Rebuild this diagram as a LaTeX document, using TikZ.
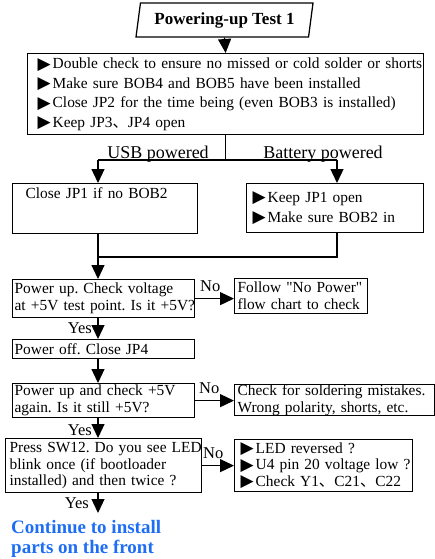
\documentclass[tikz,border=0pt]{standalone}
\usepackage{fontspec}
\setmainfont{Liberation Serif}
\newfontfamily\symfont{DejaVu Sans}
\newfontfamily\plainserif{Liberation Serif}[Ligatures=TeXOff]
\newfontfamily\cjk{Noto Sans CJK SC}
\usetikzlibrary{shapes.geometric,arrows.meta}
\definecolor{contblue}{RGB}{30,110,245}
\newcommand\bul{\raisebox{-0.5pt}{\symfont\fontsize{17}{17}\selectfont ▶}\hspace{2pt}}
\newcommand\dun{{\cjk 、}}
\newcommand\dq{{\plainserif\symbol{34}}}
\hfuzz=200pt \hbadness=10000
\frenchspacing
\begin{document}
\begin{tikzpicture}[x=1pt,y=-1pt,
  box/.style={draw, line width=1.25pt, rectangle, inner ysep=0pt, align=left, anchor=north west,
    font=\frenchspacing\fontsize{15.4}{17}\selectfont},
  arr/.style={line width=1.25pt, -{Triangle[length=14pt,width=13pt]}},
  ln/.style={line width=1.25pt},
  lbl/.style={inner sep=0pt, font=\fontsize{16.5}{16.5}\selectfont},
  brlbl/.style={inner sep=0pt, anchor=base, font=\fontsize{18}{18}\selectfont}]
\useasboundingbox (0,0) rectangle (434,559);

\node[trapezium, trapezium left angle=74, trapezium right angle=106, trapezium stretches body,
  draw, line width=1.25pt, minimum width=177, minimum height=34, inner sep=0pt,
  font=\bfseries\fontsize{17}{17}\selectfont] (title) at (224.5,20) {Powering-up Test 1};

\node[box, inner xsep=10pt, minimum width=396, minimum height=81, text width=376,
  font=\frenchspacing\fontsize{15.4}{19.5}\selectfont] (b1) at (27,53)
  {\mbox{\bul Double check to ensure no missed or cold solder or shorts}\\
   \mbox{\bul Make sure BOB4 and BOB5 have been installed}\\
   \mbox{\bul Close JP2 for the time being (even BOB3 is installed)}\\
   \mbox{\bul Keep JP3\dun JP4 open}};

\node[box, inner xsep=13pt, minimum width=185, minimum height=50, text width=159,
  font=\frenchspacing\fontsize{15.4}{24}\selectfont] (L) at (12,183) {Close JP1 if no BOB2\\ \strut};
\node[box, inner xsep=6pt, minimum width=177, minimum height=49, text width=165,
  font=\frenchspacing\fontsize{15.4}{20}\selectfont] (R) at (246,183)
  {\mbox{\bul Keep JP1 open}\\ \mbox{\bul Make sure BOB2 in}};

\node[box, inner xsep=2pt, minimum width=182, minimum height=38, text width=178] (B1) at (12,279)
  {\mbox{Power up. Check voltage}\\ \mbox{at +5V test point. Is it +5V?}};
\node[box, inner xsep=3pt, minimum width=133, minimum height=35, text width=127] (N1) at (234,278)
  {\mbox{Follow \dq No Power\dq}\\ \mbox{flow chart to check}};

\node[box, inner xsep=2pt, minimum width=182, minimum height=19, text width=178] (B2) at (12,339)
  {Power off. Close JP4};

\node[box, inner xsep=2pt, minimum width=182, minimum height=34, text width=178] (B3) at (12,383)
  {\mbox{Power up and check +5V}\\ \mbox{again. Is it still +5V?}};
\node[box, inner xsep=3pt, minimum width=200, minimum height=28, text width=194] (N2) at (234,384)
  {\mbox{Check for soldering mistakes.}\\ \mbox{Wrong polarity, shorts, etc.}};

\node[box, inner xsep=4pt, minimum width=196, minimum height=54, text width=188,
  font=\frenchspacing\fontsize{15.4}{16.5}\selectfont] (B4) at (5,438)
  {\mbox{Press SW12. Do you see LED}\\ \mbox{blink once (if bootloader}\\ \mbox{installed) and then twice ?}};
\node[box, inner xsep=6pt, minimum width=178, minimum height=52, text width=166,
  font=\frenchspacing\fontsize{15.4}{16.5}\selectfont] (N3) at (234,439)
  {\mbox{\bul LED reversed ?}\\ \mbox{\bul U4 pin 20 voltage low ?}\\ \mbox{\bul Check Y1\dun C21\dun C22}};

\node[inner sep=0pt, anchor=north west, align=left, text=contblue,
  font=\bfseries\fontsize{19}{20.5}\selectfont] (fin) at (11,520)
  {Continue to install\\ parts on the front};

% connectors
\draw[arr] (title.south) -- (b1.north);
\coordinate (jl) at (98,160);
\coordinate (jr) at (337,160);
\draw[ln] (b1.south) -- (b1.south |- jl);
\draw[ln] (jl) -- (jr);
\draw[arr] (jl) -- (jl |- L.north);
\draw[arr] (jr) -- (jr |- R.north);
\node[brlbl] (usb) at (158,158) {USB powered};
\node[brlbl] (bat) at (323,158) {Battery powered};

\coordinate (ml) at (98,257);
\coordinate (mr) at (337,257);
\draw[ln] (L.south -| ml) -- (ml) -- (mr) -- (R.south -| mr);
\draw[arr] (ml) -- (ml |- B1.north);

\draw[arr] (B1.east) -- (B1.east -| N1.west);
\node[lbl, anchor=base west] (no1) at (200,291) {No};
\draw[arr] (B1.south -| ml) -- (B2.north -| ml);
\node[lbl, anchor=base east] (yes1) at (92,333) {Yes};
\draw[arr] (B2.south -| ml) -- (B3.north -| ml);

\draw[arr] (B3.east) -- (B3.east -| N2.west);
\node[lbl, anchor=base west] (no2) at (199,393) {No};
\draw[arr] (B3.south -| ml) -- (B4.north -| ml);
\node[lbl, anchor=base east] (yes2) at (92,435) {Yes};

\draw[arr] (B4.east) -- (B4.east -| N3.west);
\node[lbl, anchor=base west] (no3) at (203,458) {No};
\coordinate (endarr) at (98,513);
\draw[arr] (B4.south -| ml) -- (endarr);
\node[lbl, anchor=base east] (yes3) at (89,508) {Yes};
\end{tikzpicture}
\end{document}
